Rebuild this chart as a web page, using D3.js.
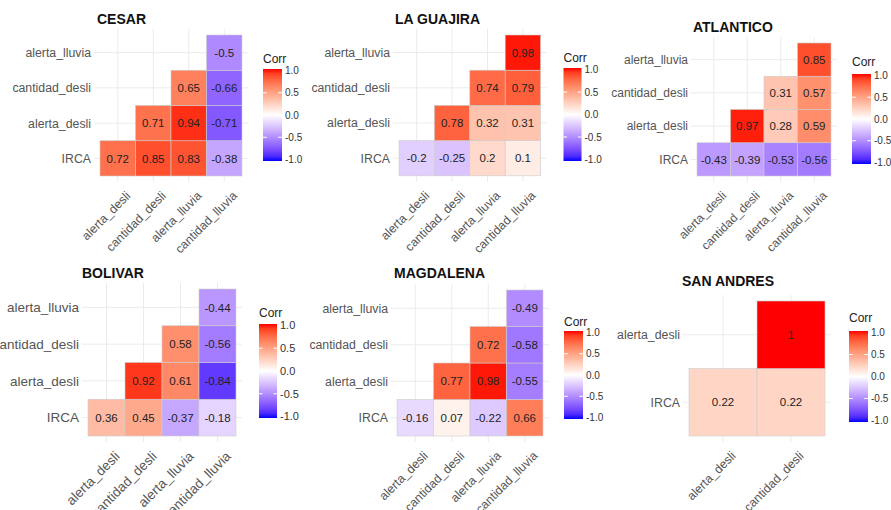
<!DOCTYPE html>
<html>
<head>
<meta charset="utf-8">
<script src="https://cdn.jsdelivr.net/npm/d3@7"></script>
<style>
  body { margin: 0; background: #fff; }
  text { font-family: "Liberation Sans", Arial, sans-serif; }
</style>
</head>
<body>
<div id="chart"></div>
<script>
// categories
var cols4 = ["alerta_desli", "cantidad_desli", "alerta_lluvia", "cantidad_lluvia"];
var rows4 = ["IRCA", "alerta_desli", "cantidad_desli", "alerta_lluvia"];
var cols2 = ["alerta_desli", "cantidad_desli"];
var rows2 = ["IRCA", "alerta_desli"];

// correlation values, one row per row label (bottom row first), null = empty cell
var cesar = [[0.72, 0.85, 0.83, -0.38], [null, 0.71, 0.94, -0.71], [null, null, 0.65, -0.66], [null, null, null, -0.5]];
var guajira = [[-0.2, -0.25, 0.2, 0.1], [null, 0.78, 0.32, 0.31], [null, null, 0.74, 0.79], [null, null, null, 0.98]];
var atlantico = [[-0.43, -0.39, -0.53, -0.56], [null, 0.97, 0.28, 0.59], [null, null, 0.31, 0.57], [null, null, null, 0.85]];
var bolivar = [[0.36, 0.45, -0.37, -0.18], [null, 0.92, 0.61, -0.84], [null, null, 0.58, -0.56], [null, null, null, -0.44]];
var magdalena = [[-0.16, 0.07, -0.22, 0.66], [null, 0.77, 0.98, -0.55], [null, null, 0.72, -0.58], [null, null, null, -0.49]];
var sanAndres = [[0.22, 0.22], [null, 1]];

var titles = ["CESAR", "LA GUAJIRA", "ATLANTICO", "BOLIVAR", "MAGDALENA", "SAN ANDRES"];
var legendBreaks = [1, 0.5, 0, -0.5, -1];

var panels = [
    {title: titles[0], rows: rows4, cols: cols4, values: cesar},
    {title: titles[1], rows: rows4, cols: cols4, values: guajira},
    {title: titles[2], rows: rows4, cols: cols4, values: atlantico},
    {title: titles[3], rows: rows4, cols: cols4, values: bolivar},
    {title: titles[4], rows: rows4, cols: cols4, values: magdalena},
    {title: titles[5], rows: rows2, cols: cols2, values: sanAndres}
];

// where each pasted panel sits in the picture
var layout = [
    {x0: 100, y0: 35, w: 35.5, h: 35.25, tx: 97, ty: 23.5, fs: 12.3, lx: 263, ly: 69, lw: 19, lh: 92, cy: 63},
    {x0: 399, y0: 35, w: 35.4, h: 35.2, tx: 395, ty: 23.5, fs: 12.3, lx: 563.5, ly: 68, lw: 18, lh: 93, cy: 62},
    {x0: 697, y0: 43, w: 33.5, h: 33.25, tx: 693, ty: 32, fs: 12, lx: 852, ly: 74, lw: 19, lh: 90, cy: 66},
    {x0: 88, y0: 289, w: 37, h: 36.75, tx: 82, ty: 277.5, fs: 13.5, lx: 259, ly: 324, lw: 18, lh: 94, cy: 317},
    {x0: 397, y0: 290, w: 36.5, h: 36.5, tx: 394, ty: 278, fs: 12.3, lx: 564, ly: 331, lw: 19, lh: 88, cy: 326},
    {x0: 689, y0: 301, w: 68, h: 67.5, tx: 682, ty: 285.5, fs: 12.3, lx: 849, ly: 331, lw: 19, lh: 91, cy: 322}
];

var color = d3.scaleLinear()
    .domain([-1, 0, 1])
    .range(["blue", "white", "red"])
    .interpolate(d3.interpolateLab);

var svg = d3.select("#chart").append("svg")
    .attr("width", 891)
    .attr("height", 510);

// shared gradient for the colour bars (top = 1, bottom = -1)
var grad = svg.append("defs").append("linearGradient")
    .attr("id", "corr-grad")
    .attr("x1", 0).attr("y1", 0).attr("x2", 0).attr("y2", 1);
d3.range(0, 1.0001, 0.05).forEach(function(t) {
    grad.append("stop")
        .attr("offset", t)
        .attr("stop-color", color(1 - 2 * t));
});

panels.forEach(function(p, i) {
    var L = layout[i];
    var g = svg.append("g");

    var x = d3.scaleBand()
        .domain(p.cols)
        .range([L.x0, L.x0 + p.cols.length * L.w]);
    var y = d3.scaleBand()
        .domain(p.rows)
        .range([L.y0 + p.rows.length * L.h, L.y0]);

    var pad = 6;
    var left = x.range()[0] - pad, right = x.range()[1] + pad;
    var top = y.range()[1] - pad, bottom = y.range()[0] + pad;

    // grid lines
    g.selectAll(".hgrid")
        .data(p.rows)
        .enter().append("line")
        .attr("x1", left).attr("x2", right)
        .attr("y1", function(d) { return y(d) + y.bandwidth() / 2; })
        .attr("y2", function(d) { return y(d) + y.bandwidth() / 2; })
        .attr("stroke", "#ebebeb")
        .attr("stroke-width", 1);
    g.selectAll(".vgrid")
        .data(p.cols)
        .enter().append("line")
        .attr("y1", top).attr("y2", bottom)
        .attr("x1", function(d) { return x(d) + x.bandwidth() / 2; })
        .attr("x2", function(d) { return x(d) + x.bandwidth() / 2; })
        .attr("stroke", "#ebebeb")
        .attr("stroke-width", 1);

    // flatten the matrix into cells
    var cells = [];
    p.values.forEach(function(row, r) {
        row.forEach(function(v, c) {
            if (v !== null) cells.push({row: p.rows[r], col: p.cols[c], value: v});
        });
    });

    g.selectAll(".tile")
        .data(cells)
        .enter().append("rect")
        .attr("x", function(d) { return x(d.col); })
        .attr("y", function(d) { return y(d.row); })
        .attr("width", x.bandwidth())
        .attr("height", y.bandwidth())
        .attr("fill", function(d) { return color(d.value); })
        .attr("stroke", "#cccccc")
        .attr("stroke-width", 0.6);

    g.selectAll(".lab")
        .data(cells)
        .enter().append("text")
        .attr("x", function(d) { return x(d.col) + x.bandwidth() / 2; })
        .attr("y", function(d) { return y(d.row) + y.bandwidth() / 2; })
        .attr("dy", "0.36em")
        .attr("text-anchor", "middle")
        .style("font-size", "11.5px")
        .style("fill", "#222")
        .text(function(d) { return String(d.value); });

    // row labels
    g.selectAll(".ylab")
        .data(p.rows)
        .enter().append("text")
        .attr("x", left - 3)
        .attr("y", function(d) { return y(d) + y.bandwidth() / 2; })
        .attr("dy", "0.36em")
        .attr("text-anchor", "end")
        .style("font-size", L.fs + "px")
        .style("fill", "#555")
        .text(function(d) { return d; });

    // rotated column labels
    g.selectAll(".xlab")
        .data(p.cols)
        .enter().append("text")
        .attr("transform", function(d) {
            return "translate(" + (x(d) + x.bandwidth() / 2 + 7) + "," + (y.range()[0] + 14) + ") rotate(-45)";
        })
        .attr("dy", "0.75em")
        .attr("text-anchor", "end")
        .style("font-size", L.fs + "px")
        .style("fill", "#555")
        .text(function(d) { return d; });

    // title
    g.append("text")
        .attr("x", L.tx)
        .attr("y", L.ty)
        .style("font-size", "14px")
        .style("font-weight", "bold")
        .style("fill", "#111")
        .text(p.title);

    // legend
    var ly = d3.scaleLinear()
        .domain([-1, 1])
        .range([L.ly + L.lh - 1.5, L.ly + 1.5]);

    g.append("text")
        .attr("x", L.lx)
        .attr("y", L.cy)
        .style("font-size", "12px")
        .style("fill", "#222")
        .text("Corr");

    g.append("rect")
        .attr("x", L.lx)
        .attr("y", L.ly)
        .attr("width", L.lw)
        .attr("height", L.lh)
        .attr("fill", "url(#corr-grad)");

    legendBreaks.filter(function(b) { return Math.abs(b) < 1; }).forEach(function(b) {
        [[L.lx, L.lx + L.lw / 5], [L.lx + L.lw * 4 / 5, L.lx + L.lw]].forEach(function(seg) {
            g.append("line")
                .attr("x1", seg[0]).attr("x2", seg[1])
                .attr("y1", ly(b)).attr("y2", ly(b))
                .attr("stroke", "white")
                .attr("stroke-width", 1);
        });
    });

    g.selectAll(".ltick")
        .data(legendBreaks)
        .enter().append("text")
        .attr("x", L.lx + L.lw + 3)
        .attr("y", function(d) { return ly(d); })
        .attr("dy", "0.36em")
        .style("font-size", (i === 3 ? 11 : 10) + "px")
        .style("fill", "#333")
        .text(function(d) { return d.toFixed(1); });
});
</script>
</body>
</html>
